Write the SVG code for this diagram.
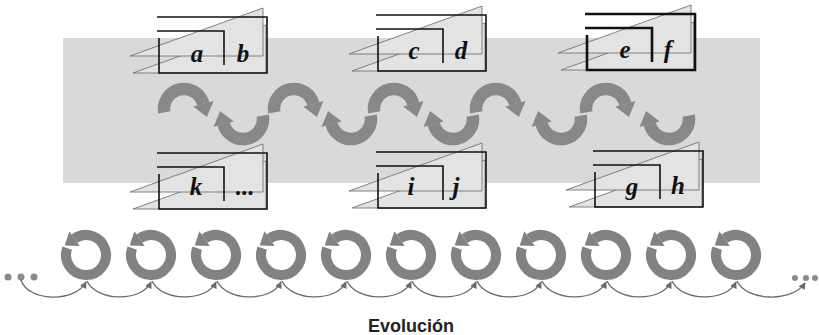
<svg xmlns="http://www.w3.org/2000/svg" xmlns:xlink="http://www.w3.org/1999/xlink" width="819" height="335" viewBox="0 0 819 335">
<style>
.tri{fill:#e3e3e3;stroke:#747474;stroke-width:.9}
.fr{fill:none}
.lbl{font-family:"Liberation Serif","Times New Roman",serif;font-weight:bold;font-style:italic;font-size:25px;fill:#111;text-anchor:middle}
.wave{fill:none;stroke:#888;stroke-width:12.5}
.wavehead{fill:#888}
.ring{fill:none;stroke:#828282;stroke-width:10}
.ringhead{fill:#828282}
.con{fill:none;stroke:#6a6a6a;stroke-width:1.3}
.dot{fill:#8a8a8a}
.cap{font-family:"Liberation Sans",Arial,sans-serif;font-weight:bold;font-size:18px;fill:#222;text-anchor:middle}
</style>
<defs>
<g id="frame">
<polygon class="tri" points="-24,56 109,8 109,56"/>
<polygon class="tri" points="-27,39 106,-9 106,39"/>
<path class="fr" d="M0,0 H110 V56 H2 V21 M0,14 H67 V48"/>
</g>
<g id="arcU">
<path class="wave" d="M-19.70,3.47 A20 20 0 0 1 19.32,-5.18"/>
<polygon class="wavehead" points="29.5,-7.9 9.2,-2.5 22.9,8.0"/>
</g>
<g id="ringArrow">
<path class="ring" d="M-18.79,-6.84 A20 20 0 1 0 -11.47,-16.38"/>
<polygon class="ringhead" points="-16.63,-23.75 -6.31,-9.01 -21.3,-9.5"/>
</g>
<marker id="ah" viewBox="0 0 8 8" refX="7" refY="4" markerWidth="7" markerHeight="7" markerUnits="userSpaceOnUse" orient="auto">
<path d="M0,0 L8,4 L0,8 z" fill="#6a6a6a"/>
</marker>
</defs>

<rect id="band" x="63" y="38" width="697" height="145" fill="#d9d9d9"/>

<g id="box-ab">
<use xlink:href="#frame" transform="translate(157,17)" stroke="#111" stroke-width="1.6"/>
<text class="lbl" x="197" y="62">a</text>
<text class="lbl" x="243" y="62">b</text>
</g>
<g id="box-cd">
<use xlink:href="#frame" transform="translate(376,15)" stroke="#111" stroke-width="1.6"/>
<text class="lbl" x="414" y="59">c</text>
<text class="lbl" x="461" y="59">d</text>
</g>
<g id="box-ef">
<use xlink:href="#frame" transform="translate(585,14)" stroke="#111" stroke-width="2.6"/>
<text class="lbl" x="625" y="58">e</text>
<text class="lbl" x="668" y="58">f</text>
</g>
<g id="box-k">
<use xlink:href="#frame" transform="translate(157,153)" stroke="#111" stroke-width="1.6"/>
<text class="lbl" x="196" y="195">k</text>
<text class="lbl" x="245" y="195">...</text>
</g>
<g id="box-ij">
<use xlink:href="#frame" transform="translate(376,152)" stroke="#111" stroke-width="1.6"/>
<text class="lbl" x="411" y="195">i</text>
<text class="lbl" x="456" y="195">j</text>
</g>
<g id="box-gh">
<use xlink:href="#frame" transform="translate(593,151)" stroke="#111" stroke-width="1.6"/>
<text class="lbl" x="632" y="195">g</text>
<text class="lbl" x="678" y="194">h</text>
</g>

<g id="wave">
<use xlink:href="#arcU" transform="translate(184,109)"/>
<use xlink:href="#arcU" transform="translate(243,119) rotate(180)"/>
<use xlink:href="#arcU" transform="translate(294,109)"/>
<use xlink:href="#arcU" transform="translate(351,119) rotate(180)"/>
<use xlink:href="#arcU" transform="translate(394,109)"/>
<use xlink:href="#arcU" transform="translate(453,119) rotate(180)"/>
<use xlink:href="#arcU" transform="translate(496,109)"/>
<use xlink:href="#arcU" transform="translate(561,119) rotate(180)"/>
<use xlink:href="#arcU" transform="translate(606,109)"/>
<use xlink:href="#arcU" transform="translate(669,119) rotate(180)"/>
</g>

<g id="cycles">
<use id="c1" xlink:href="#ringArrow" transform="translate(86,255)"/>
<use id="c2" xlink:href="#ringArrow" transform="translate(151,255)"/>
<use id="c3" xlink:href="#ringArrow" transform="translate(216,255)"/>
<use id="c4" xlink:href="#ringArrow" transform="translate(281,255)"/>
<use id="c5" xlink:href="#ringArrow" transform="translate(346,255)"/>
<use id="c6" xlink:href="#ringArrow" transform="translate(411,255)"/>
<use id="c7" xlink:href="#ringArrow" transform="translate(476,255)"/>
<use id="c8" xlink:href="#ringArrow" transform="translate(541,255)"/>
<use id="c9" xlink:href="#ringArrow" transform="translate(606,255)"/>
<use id="c10" xlink:href="#ringArrow" transform="translate(671,255)"/>
<use id="c11" xlink:href="#ringArrow" transform="translate(736,255)"/>
</g>

<g id="dots-left">
<circle class="dot" cx="8" cy="277" r="3.5"/>
<circle class="dot" cx="21" cy="277" r="3.5"/>
<circle class="dot" cx="34" cy="277" r="3.5"/>
</g>
<g id="dots-right">
<circle class="dot" cx="795" cy="278" r="3"/>
<circle class="dot" cx="806" cy="278" r="3"/>
<circle class="dot" cx="815" cy="278" r="3"/>
</g>

<g id="connectors">
<path class="con" marker-end="url(#ah)" d="M21,280 C28,302 75,303 86,282"/>
<path class="con" marker-end="url(#ah)" d="M87,281 C96,301 141,303 151,282"/>
<path class="con" marker-end="url(#ah)" d="M152,281 C161,301 206,303 216,282"/>
<path class="con" marker-end="url(#ah)" d="M217,281 C226,301 271,303 281,282"/>
<path class="con" marker-end="url(#ah)" d="M282,281 C291,301 336,303 346,282"/>
<path class="con" marker-end="url(#ah)" d="M347,281 C356,301 401,303 411,282"/>
<path class="con" marker-end="url(#ah)" d="M412,281 C421,301 466,303 476,282"/>
<path class="con" marker-end="url(#ah)" d="M477,281 C486,301 531,303 541,282"/>
<path class="con" marker-end="url(#ah)" d="M542,281 C551,301 596,303 606,282"/>
<path class="con" marker-end="url(#ah)" d="M607,281 C616,301 661,303 671,282"/>
<path class="con" marker-end="url(#ah)" d="M672,281 C681,301 726,303 736,282"/>
<path class="con" marker-end="url(#ah)" d="M737,281 C746,301 792,303 805,283"/>
</g>

<text id="caption" class="cap" x="411" y="332">Evolución</text>
</svg>
